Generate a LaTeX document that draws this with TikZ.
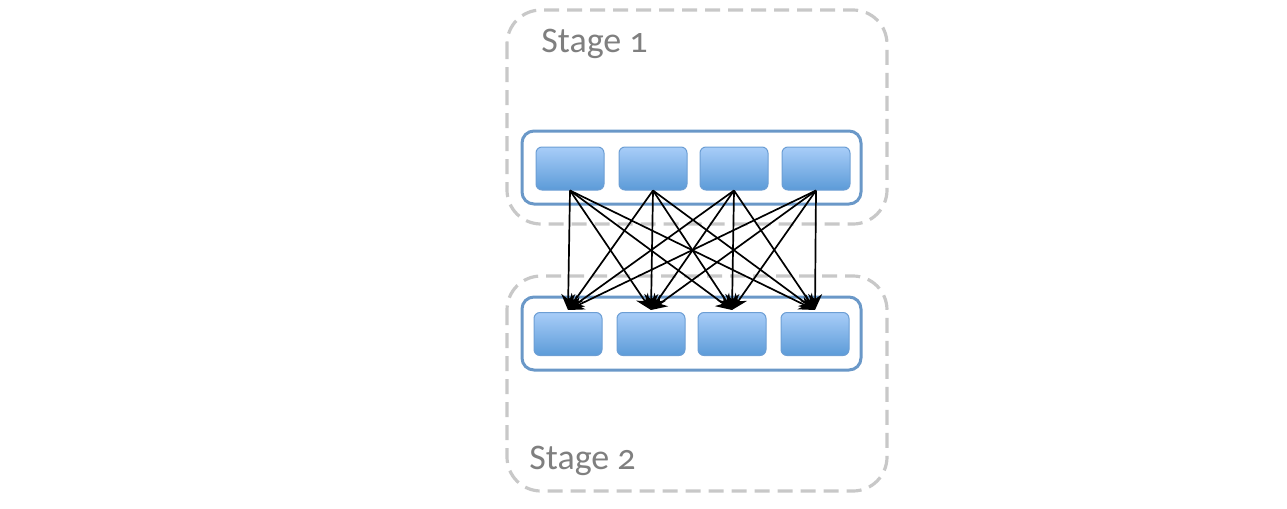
\documentclass[tikz,border=0pt]{standalone}
\usepackage{fontspec}
\setmainfont[Numbers=OldStyle]{Carlito}
\usetikzlibrary{arrows.meta}
\definecolor{dashgray}{HTML}{C8C8C8}
\definecolor{groupblue}{HTML}{6A98C8}
\definecolor{celltop}{HTML}{A8CDF8}
\definecolor{cellbottom}{HTML}{5C9BD8}
\definecolor{cellline}{HTML}{6C9ED4}
\definecolor{labelgray}{HTML}{7F7F7F}
\begin{document}
\begin{tikzpicture}
  [x=0.5pt,y=-0.5pt,
   stagebox/.style={draw=dashgray,line width=1.6pt,dash pattern=on 7.5pt off 4pt,rounded corners=17pt},
   groupbox/.style={draw=groupblue,line width=1.5pt,rounded corners=6pt},
   cellbox/.style={draw=cellline,line width=0.5pt,rounded corners=3pt,top color=celltop,bottom color=cellbottom,minimum width=34pt,minimum height=21.5pt,inner sep=0pt},
   stagelabel/.style={text=labelgray,font=\fontsize{18}{20}\selectfont,anchor=base west,inner sep=0pt},
   link/.style={-{Stealth[length=8pt,width=7pt]},line width=0.85pt,black}]
  \useasboundingbox (0,0) rectangle (1287,509);

  % stage frames
  \draw[stagebox] (507,10) rectangle (887,224);
  \draw[stagebox] (507,276) rectangle (887,491);
  \node (s1)[stagelabel] at (541,52) {Stage 1};
  \node (s2)[stagelabel] at (529,469) {Stage 2};

  % groups
  \draw[groupbox] (522,131) rectangle (861,204);
  \draw[groupbox] (522,297) rectangle (861,370);

  % cells
  \foreach \n/\x in {1/570,2/653,3/734,4/816}
    \node (t\n)[cellbox] at (\x,168.5) {};
  \foreach \n/\x in {1/568,2/651,3/732,4/815}
    \node (b\n)[cellbox] at (\x,334) {};

  \foreach \from in {1,...,4}
    \foreach \to in {1,...,4}
      \draw[link] (t\from.south) -- ([yshift=1pt]b\to.north);

\end{tikzpicture}
\end{document}
